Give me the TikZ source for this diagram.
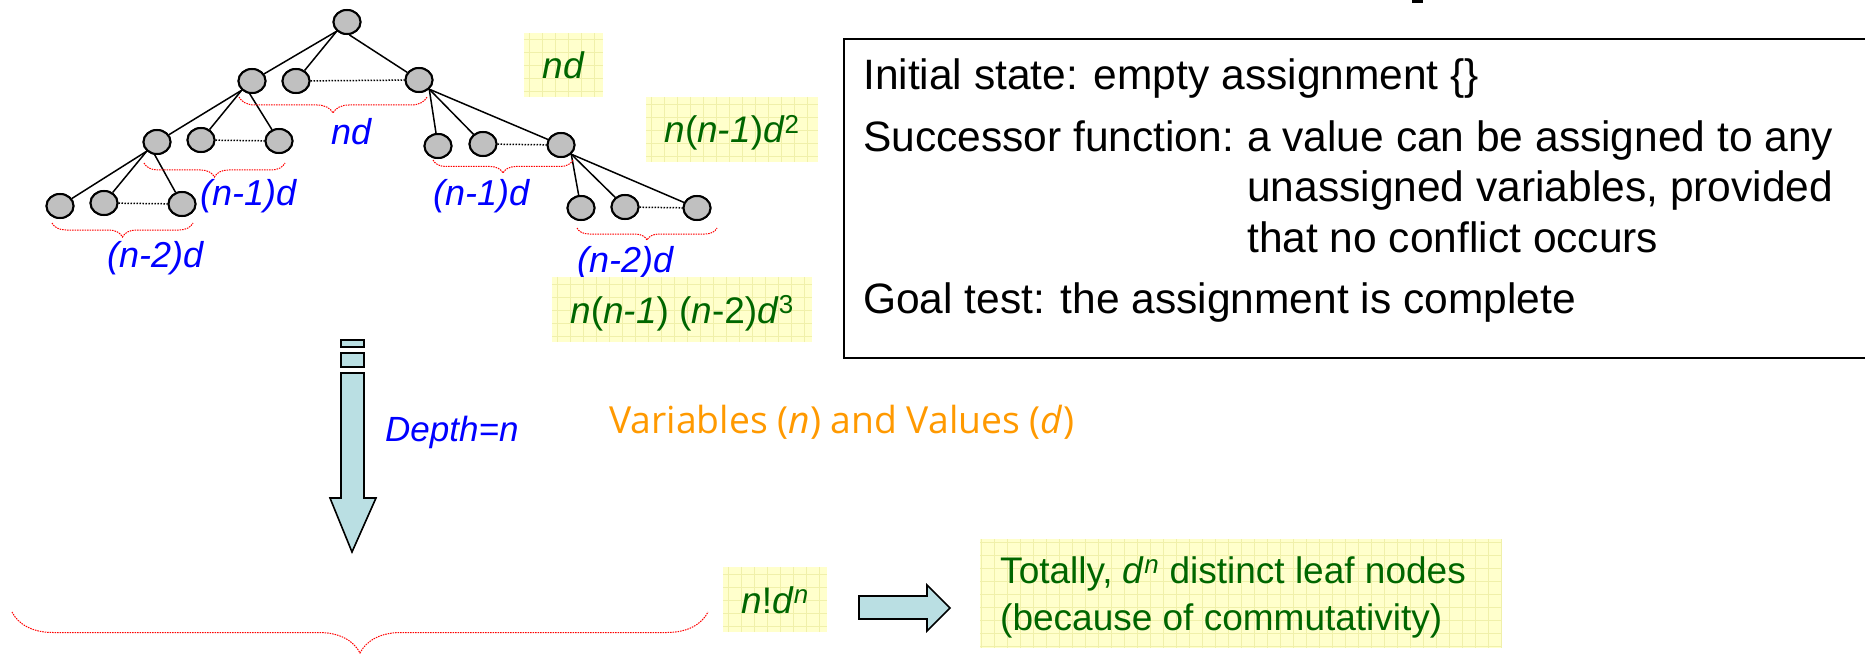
\documentclass[tikz,border=0pt]{standalone}
\usepackage{fontspec}
\setmainfont{Liberation Sans}
\newfontfamily\orangefont{Open Sans}
\usetikzlibrary{shapes.geometric,decorations.pathreplacing}
\definecolor{ellgray}{RGB}{192,192,192}
\definecolor{ybg}{RGB}{255,255,204}
\definecolor{ygrid}{RGB}{240,240,170}
\definecolor{gtxt}{RGB}{0,102,0}
\definecolor{btxt}{RGB}{0,0,255}
\definecolor{otxt}{RGB}{255,153,0}
\definecolor{arrfill}{RGB}{186,223,227}
\definecolor{rbr}{RGB}{255,0,0}
\begin{document}
\begin{tikzpicture}[x=1pt,y=-1pt,
  ell/.style={ellipse, draw=black, line width=2pt, fill=ellgray, minimum width=27pt, minimum height=24pt, inner sep=0pt},
  edge/.style={draw=black, line width=1.5pt},
  sib/.style={draw=black, line width=1.5pt, dash pattern=on 1.5pt off 1.5pt},
  rbrace/.style={draw=rbr, line width=1pt, dash pattern=on 1.5pt off 1pt, decorate, decoration={brace, mirror, amplitude=#1}},
  blab/.style={text=btxt, font=\fontsize{36}{40}\selectfont\itshape, inner sep=0pt, anchor=base west},
  gbox/.style={fill=ybg, inner sep=0pt, text=gtxt, font=\fontsize{37}{44}\selectfont, text height=27pt, text depth=0pt,
    path picture={\draw[ygrid, line width=0.8pt, step=13pt] (path picture bounding box.south west) grid (path picture bounding box.north east);}},
  gline/.style={text=gtxt, font=\fontsize{37}{44}\selectfont, inner sep=0pt, anchor=base west},
  kline/.style={text=black, font=\fontsize{42.5}{50}\selectfont, inner sep=0pt, anchor=base west},
  arr/.style={fill=arrfill, draw=black, line width=1.6pt, line join=miter}
]
\useasboundingbox (0,0) rectangle (1865,655);
\clip (0,0) rectangle (1865,655);

% title remnant
\fill[black] (1412,0) rectangle (1423,3);

% ---------- tree ----------
\node[ell] (root) at (347,22) {};
\node[ell] (A1) at (252,81) {};
\node[ell] (A2) at (296,81) {};
\node[ell] (A3) at (419,80) {};
\node[ell] (B1) at (157,142) {};
\node[ell] (B2) at (201,140) {};
\node[ell] (B3) at (279,141) {};
\node[ell] (C1) at (60,206) {};
\node[ell] (C2) at (104,203) {};
\node[ell] (C3) at (182,204) {};
\node[ell] (D1) at (438,146) {};
\node[ell] (D2) at (483,144) {};
\node[ell] (D3) at (561,145) {};
\node[ell] (E1) at (581,208) {};
\node[ell] (E2) at (625,207) {};
\node[ell] (E3) at (697,208) {};

\draw[edge] (root.south west) -- (A1);
\draw[edge] (root.south west) -- (A2);
\draw[edge] (root.-80) -- (A3);
\draw[edge] (A1.south west) -- (B1);
\draw[edge] (A1.south west) -- (B2);
\draw[edge] (A1.-100) -- (B3);
\draw[edge] (B1.south west) -- (C1);
\draw[edge] (B1.south west) -- (C2);
\draw[edge] (B1.-100) -- (C3);
\draw[edge] (A3.south east) -- (D1);
\draw[edge] (A3.south east) -- (D2);
\draw[edge] (A3.south east) -- (D3);
\draw[edge] (D3.south east) -- (E1);
\draw[edge] (D3.south east) -- (E2);
\draw[edge] (D3.south east) -- (E3);

\draw[sib] (A2) -- (A3);
\draw[sib] (B2) -- (B3);
\draw[sib] (C2) -- (C3);
\draw[sib] (D2) -- (D3);
\draw[sib] (E2) -- (E3);

% redraw nodes on top of connectors
\foreach \n in {root,A1,A2,A3,B1,B2,B3,C1,C2,C3,D1,D2,D3,E1,E2,E3}{
  \node[ell] at (\n) {};
}

% ---------- red braces ----------
\draw[rbrace=16pt] (239,97) -- (427,97);
\draw[rbrace=14pt] (144,163) -- (285,163);
\draw[rbrace=14pt] (52,223) -- (193,223);
\draw[rbrace=13pt] (433,160) -- (573,160);
\draw[rbrace=12pt] (577,228) -- (717,228);
\draw[rbrace=41pt] (12,612) -- (708,612);

% ---------- blue labels ----------
\node[blab] (lnd) at (331,145) {nd};
\node[blab] (ln1l) at (200,205) {(n-1)d};
\node[blab] (ln2l) at (107,267) {(n-2)d};
\node[blab] (ln1r) at (433,205) {(n-1)d};
\node[blab] (ln2r) at (577,272) {(n-2)d};
\node[blab, font=\fontsize{35}{40}\selectfont\itshape] (depth) at (385,441) {Depth=n};

% ---------- green boxes ----------
\node[gbox, minimum width=79pt, minimum height=64pt] (g1) at (563.5,65) {\textit{nd}};
\node[gbox, minimum width=172pt, minimum height=65pt] (g2) at (732,129.5) {\textit{n}(\textit{n-1})\textit{d}\textsuperscript{2}};
\node[gbox, minimum width=260pt, minimum height=65pt] (g3) at (682,309.5) {\textit{n}(\textit{n-1}) (\textit{n}-2)\textit{d}\textsuperscript{3}};
\node[gbox, minimum width=104pt, minimum height=65pt] (g4) at (775,599.5) {\textit{n}!\textit{d}\textsuperscript{\textit{n}}};
\node[gbox, minimum width=522pt, minimum height=109pt] (tot) at (1241,593.5) {};
\node[gline] (tot1) at (1000,583) {Totally, \textit{d}\textsuperscript{\textit{n}} distinct leaf nodes};
\node[gline] (tot2) at (1000,630) {(because of commutativity)};

% ---------- orange text ----------
\node[text=otxt, font=\fontsize{37.3}{40}\selectfont\orangefont, inner sep=0pt, anchor=base west] (vars) at (609,433) {Variables (\textit{n}) and Values (\textit{d})};

% ---------- block arrows ----------
\draw[arr] (341,340) rectangle (364,347);
\draw[arr] (341,353) rectangle (364,367);
\draw[arr] (341,373) -- (364,373) -- (364,498) -- (376,498) -- (352,552) -- (330,498) -- (341,498) -- cycle;
\draw[arr] (859,596) -- (927,596) -- (927,585) -- (950,608) -- (927,631) -- (927,619) -- (859,619) -- cycle;

% ---------- problem box ----------
\node[draw=black, line width=2pt, minimum width=1040pt, minimum height=319pt, anchor=north west, inner sep=0pt] (spec) at (843,38) {};
\node[kline] (s1) at (863,90) {Initial state: empty assignment \{\}};
\node[kline] (s2) at (863,152) {Successor function:};
\node[kline] (s2b) at (1247,152) {\hbox to 586pt{a value can be assigned to any}};
\node[kline] (s3) at (1247,202) {unassigned variables, provided};
\node[kline] (s4) at (1247,252) {that no conflict occurs};
\node[kline] (s5) at (863,313) {Goal test: the assignment is complete};
\end{tikzpicture}
\end{document}
